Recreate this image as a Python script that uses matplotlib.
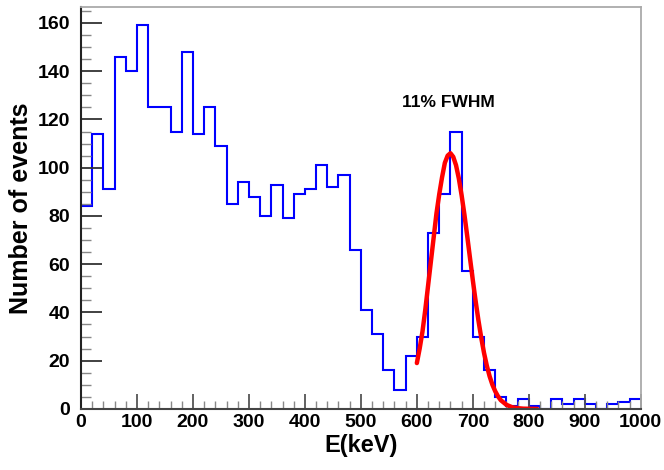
import matplotlib
matplotlib.use("Agg")
import matplotlib.pyplot as plt
import numpy as np
from matplotlib.ticker import MultipleLocator

plt.rcParams['font.family'] = ['Liberation Sans', 'DejaVu Sans']
plt.rcParams['font.weight'] = 'bold'

# energy spectrum, 20 keV bins from 0 to 1000 keV
bin_edges = np.arange(0, 1001, 20)
counts = [84, 114, 91, 146, 140, 159, 125, 125, 115, 148,
          114, 125, 109, 85, 94, 88, 80, 93, 79, 89,
          91, 101, 92, 97, 66, 41, 31, 16, 8, 22,
          30, 73, 89, 115, 57, 30, 16, 5, 1, 4,
          1, 0, 4, 2, 4, 2, 0, 2, 3, 4]

# gaussian fit curve
fit_e = [600, 605, 610, 615, 620, 625, 630, 635, 640, 645, 650, 655, 660,
         665, 670, 675, 680, 685, 690, 695, 700, 705, 710, 715, 720, 725,
         730, 735, 740, 745, 750, 760, 770, 780, 790, 800, 815]
fit_n = [19, 25, 32, 41, 51, 61, 71, 81, 89, 96, 102, 105, 106,
         104.5, 101, 95.5, 88.5, 80.5, 71.6, 62.4, 53.3, 44.7, 36.7, 29.5, 23.2, 17.9,
         13.5, 10, 7.3, 5.2, 3.6, 1.7, 0.7, 0.3, 0.1, 0.05, 0]

fig = plt.figure(figsize=(6.64, 4.7), dpi=100)
ax = fig.add_axes([0.122, 0.13, 0.843, 0.855])

ax.stairs(counts, bin_edges, baseline=None, color='#0000ff', linewidth=1.5)
ax.plot(fit_e, fit_n, color='#ff0000', linewidth=3.2, solid_capstyle='round')

ax.text(657, 127, '11% FWHM', ha='center', va='center', fontsize=12.5, fontweight='bold')

ax.set_xlim(0, 1000)
ax.set_ylim(0, 166.6)
ax.xaxis.set_major_locator(MultipleLocator(100))
ax.xaxis.set_minor_locator(MultipleLocator(20))
ax.yaxis.set_major_locator(MultipleLocator(20))
ax.yaxis.set_minor_locator(MultipleLocator(5))

ax.tick_params(which='both', direction='in', top=False, right=False, labelsize=14)
ax.tick_params(axis='y', which='major', length=15, width=1.3, color='#333333', pad=8)
ax.tick_params(axis='y', which='minor', length=7, width=1.0, color='#888888')
ax.tick_params(axis='x', which='major', length=11, width=1.3, color='#555555', pad=4)
ax.tick_params(axis='x', which='minor', length=6, width=1.0, color='#888888')
for lab in ax.get_xticklabels() + ax.get_yticklabels():
    lab.set_fontweight('bold')

ax.spines['left'].set_color('#222222')
ax.spines['left'].set_linewidth(1.5)
ax.spines['bottom'].set_color('#444444')
ax.spines['bottom'].set_linewidth(1.5)
ax.spines['top'].set_color('#aaaaaa')
ax.spines['right'].set_color('#aaaaaa')
ax.spines['top'].set_linewidth(1.3)
ax.spines['right'].set_linewidth(1.3)

ax.set_xlabel('E(keV)', fontsize=17, fontweight='bold', labelpad=2)
ax.set_ylabel('Number of events', fontsize=18, fontweight='bold', labelpad=3)

fig.savefig('out.png', dpi=100)
